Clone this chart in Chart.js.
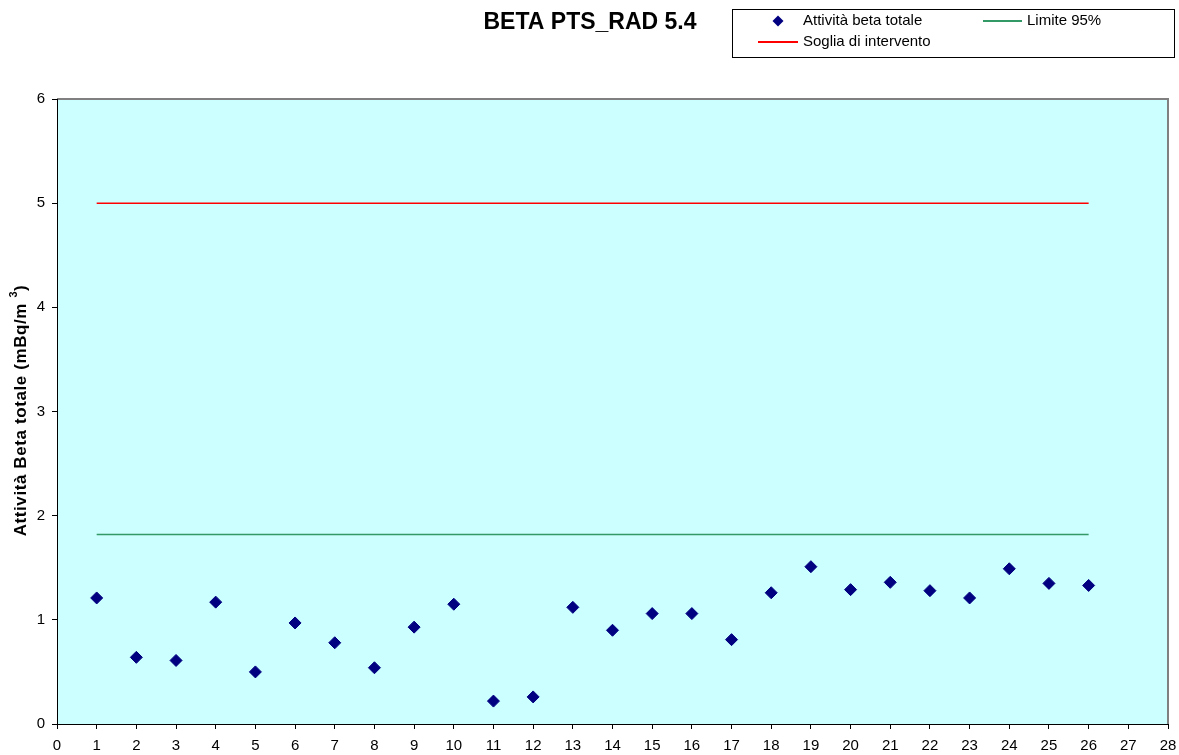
<!DOCTYPE html>
<html lang="it">
<head>
<meta charset="utf-8">
<title>BETA PTS_RAD 5.4</title>
<script src="https://cdn.jsdelivr.net/npm/chart.js"></script>
<style>
  html, body { margin: 0; padding: 0; background: #fff; }
  #wrap { width: 1179px; height: 755px; position: relative; }
</style>
</head>
<body>
<div id="wrap"><canvas id="betaChart" width="1179" height="755"></canvas></div>
<script>
/* ================================================
   BETA PTS_RAD 5.4 – attività beta totale
================================================ */

const giorni = [1, 2, 3, 4, 5, 6, 7, 8, 9, 10, 11, 12, 13, 14, 15, 16, 17, 18, 19, 20, 21, 22, 23, 24, 25, 26];
const attivitaBeta = [1.21, 0.64, 0.61, 1.17, 0.50, 0.97, 0.78, 0.54, 0.93, 1.15, 0.22, 0.26, 1.12,
                      0.90, 1.06, 1.06, 0.81, 1.26, 1.51, 1.29, 1.36, 1.28, 1.21, 1.49, 1.35, 1.33];
const limite95 = 1.82;
const sogliaIntervento = 5;
const xMax = 28;
const yMax = 6;

const titolo = 'BETA PTS_RAD 5.4';
const titoloAsseY = 'Attività Beta totale (mBq/m';
const labels = ['Attività beta totale', 'Limite 95%', 'Soglia di intervento'];

const FONT = '"Liberation Sans", Arial, sans-serif';
const NAVY = '#000080';
const GREEN = '#339966';
const RED = '#FF0000';

// background of the plot + grey frame on top/right
const plotBackground = {
  id: 'plotBackground',
  beforeDraw(chart) {
    const { ctx, chartArea: a } = chart;
    ctx.save();
    ctx.fillStyle = '#CCFFFF';
    ctx.fillRect(a.left, a.top, a.right - a.left, a.bottom - a.top);
    ctx.strokeStyle = '#808080';
    ctx.lineWidth = 2;
    ctx.beginPath();
    ctx.moveTo(a.left, a.top);
    ctx.lineTo(a.right, a.top);
    ctx.lineTo(a.right, a.bottom);
    ctx.stroke();
    ctx.restore();
  }
};

// title, y axis title (with superscript) and the boxed legend
const extras = {
  id: 'extras',
  afterDraw(chart) {
    const { ctx, chartArea: a } = chart;
    ctx.save();

    ctx.fillStyle = '#000';
    ctx.font = 'bold 23px ' + FONT;
    ctx.textAlign = 'center';
    ctx.textBaseline = 'middle';
    ctx.fillText(titolo, 590, 23);

    // y title
    ctx.save();
    ctx.translate(21, (a.top + a.bottom) / 2 - 1);
    ctx.rotate(-Math.PI / 2);
    ctx.font = 'bold 17px ' + FONT;
    ctx.letterSpacing = '0.6px';
    const wMain = ctx.measureText(titoloAsseY + ' ').width;
    const wClose = ctx.measureText(')').width;
    ctx.font = 'bold 11px ' + FONT;
    const wSup = ctx.measureText('3').width;
    let x = -(wMain + wSup + wClose) / 2;
    ctx.textAlign = 'left';
    ctx.font = 'bold 17px ' + FONT;
    ctx.fillText(titoloAsseY + ' ', x, 0);
    x += wMain;
    ctx.font = 'bold 11px ' + FONT;
    ctx.fillText('3', x, -7);
    x += wSup;
    ctx.font = 'bold 17px ' + FONT;
    ctx.fillText(')', x, 0);
    ctx.restore();

    // legend
    ctx.strokeStyle = '#000';
    ctx.lineWidth = 1;
    ctx.strokeRect(732.5, 9.5, 442, 48);
    ctx.font = '15px ' + FONT;
    ctx.textAlign = 'left';
    ctx.textBaseline = 'middle';

    ctx.fillStyle = NAVY;
    ctx.beginPath();
    ctx.moveTo(778, 15.5);
    ctx.lineTo(783.5, 21);
    ctx.lineTo(778, 26.5);
    ctx.lineTo(772.5, 21);
    ctx.closePath();
    ctx.fill();
    ctx.fillStyle = '#000';
    ctx.fillText(labels[0], 803, 21);

    ctx.lineWidth = 2;
    ctx.strokeStyle = GREEN;
    ctx.beginPath();
    ctx.moveTo(983, 21);
    ctx.lineTo(1022, 21);
    ctx.stroke();
    ctx.fillText(labels[1], 1027, 21);

    ctx.strokeStyle = RED;
    ctx.beginPath();
    ctx.moveTo(758, 42);
    ctx.lineTo(798, 42);
    ctx.stroke();
    ctx.fillText(labels[2], 803, 42);

    ctx.restore();
  }
};

const ctx = document.getElementById('betaChart').getContext('2d');
new Chart(ctx, {
  type: 'scatter',
  data: {
    datasets: [
      {
        label: labels[0],
        data: giorni.map((g, i) => ({ x: g, y: attivitaBeta[i] })),
        pointStyle: 'rectRot',
        pointRadius: 6,
        pointBackgroundColor: NAVY,
        pointBorderColor: NAVY,
        pointBorderWidth: 1,
        showLine: false,
      },
      {
        label: labels[1],
        data: giorni.map(g => ({ x: g, y: limite95 })),
        showLine: true,
        borderColor: GREEN,
        borderWidth: 1.5,
        pointRadius: 0,
      },
      {
        label: labels[2],
        data: giorni.map(g => ({ x: g, y: sogliaIntervento })),
        showLine: true,
        borderColor: RED,
        borderWidth: 1.5,
        pointRadius: 0,
      }
    ]
  },
  options: {
    responsive: false,
    animation: false,
    layout: { padding: { top: 99, left: 0, right: 11, bottom: 0 } },
    plugins: {
      legend: { display: false },
      title: { display: false },
      tooltip: { enabled: false }
    },
    scales: {
      x: {
        type: 'linear',
        min: 0, max: xMax,
        afterFit: s => { s.height = 31; s.paddingLeft = 0; s.paddingRight = 0; },
        border: { display: true, color: '#000', width: 1 },
        grid: { drawOnChartArea: false, drawTicks: true, tickLength: 5, color: '#000' },
        ticks: { stepSize: 1, color: '#000', padding: 8, maxRotation: 0, autoSkip: false, font: { family: FONT, size: 15 } }
      },
      y: {
        min: 0, max: yMax,
        afterFit: s => { s.width = 57; s.paddingTop = 0; s.paddingBottom = 0; },
        border: { display: true, color: '#000', width: 1 },
        grid: { drawOnChartArea: false, drawTicks: true, tickLength: 5, color: '#000' },
        ticks: { stepSize: 1, color: '#000', padding: 7, font: { family: FONT, size: 15 } }
      }
    }
  },
  plugins: [plotBackground, extras]
});
</script>
</body>
</html>
